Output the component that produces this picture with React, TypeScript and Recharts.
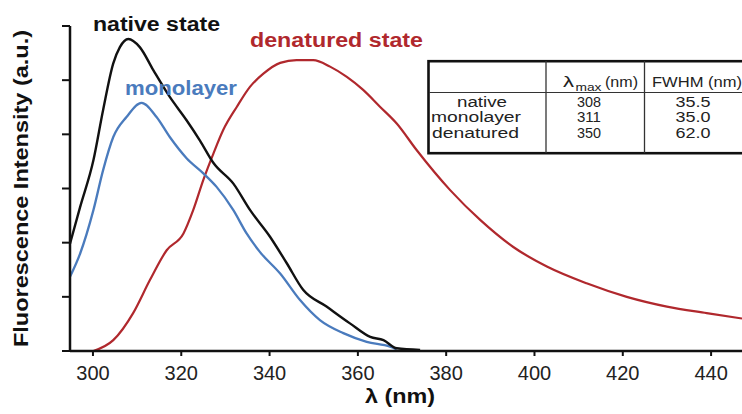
import React from 'react';
import { LineChart, Line, XAxis, YAxis } from 'recharts';

// Emission spectra, wavelength (nm) vs intensity (a.u.)
const nativeNm = [294.8, 297.1, 300.1, 302.3, 304.6, 306.1, 308.0, 310.6, 313.7, 317.4, 321.2, 324.2, 327.3, 331.8, 335.6, 340.1, 343.9, 347.6, 352.9, 358.2, 362.8, 365.8, 368.8, 374.1];
const nativeI = [1.98, 2.66, 3.52, 4.45, 5.31, 5.61, 5.76, 5.61, 5.18, 4.69, 4.26, 3.89, 3.47, 3.09, 2.6, 2.11, 1.62, 1.13, 0.82, 0.51, 0.26, 0.2, 0.05, 0.02];

const monoNm = [294.8, 297.1, 300.1, 302.3, 304.6, 307.6, 311.0, 314.4, 317.4, 321.2, 325.0, 328.0, 331.8, 334.8, 337.8, 342.4, 346.9, 351.4, 356.7, 362.0, 367.3, 368.8];
const monoI = [1.37, 1.8, 2.6, 3.34, 3.95, 4.32, 4.58, 4.32, 3.95, 3.56, 3.28, 3.03, 2.6, 2.17, 1.83, 1.43, 0.94, 0.57, 0.33, 0.17, 0.08, 0.03];

const denatNm = [300.1, 304.6, 309.1, 312.9, 316.7, 320.5, 322.7, 325.0, 327.3, 329.5, 332.6, 335.6, 338.6, 342.4, 346.1, 349.9, 353.7, 357.5, 361.2, 365.0, 368.8, 373.3, 380.9, 387.7, 395.2, 402.8, 411.8, 420.9, 430.0, 439.0, 447.0];
const denatI = [0, 0.2, 0.7, 1.31, 1.86, 2.17, 2.6, 3.16, 3.65, 4.08, 4.51, 4.88, 5.12, 5.32, 5.37, 5.37, 5.25, 5.06, 4.82, 4.51, 4.2, 3.71, 2.97, 2.42, 1.92, 1.56, 1.25, 1.0, 0.82, 0.7, 0.6];

const xTicks = [300, 320, 340, 360, 380, 400, 420, 440];
const yTicks = [0, 1, 2, 3, 4, 5, 6];

// inset table
const tableNames = ['native', 'monolayer', 'denatured'];
const tableLambdaMax = ['308', '311', '350'];
const tableFwhm = ['35.5', '35.0', '62.0'];

const BLACK = '#111';
const BLUE = '#4a7bbd';
const RED = '#b0282d';
const FONT = '"Liberation Sans", Arial, sans-serif';

const toPoints = (nm: number[], vals: number[]) => nm.map((x, i) => ({ nm: x, v: vals[i] }));

const nativeData = toPoints(nativeNm, nativeI);
const monoData = toPoints(monoNm, monoI);
const denatData = toPoints(denatNm, denatI);

// widths of the stretched table text in the picture
const nameLengths = [50, 90, 87];
const nameX = [457, 431, 432];
const rowBaselines = [106.5, 122.2, 137.8];

const Overlay = () => (
  <svg
    width={742}
    height={414}
    style={{ position: 'absolute', left: 0, top: 0, pointerEvents: 'none' }}
    fontFamily={FONT}
  >
    {/* series labels */}
    <text x={93} y={31} fontSize={20} fontWeight="bold" fill={BLACK} textLength={127} lengthAdjust="spacingAndGlyphs">
      native state
    </text>
    <text x={125} y={95} fontSize={20} fontWeight="bold" fill={BLUE} textLength={112} lengthAdjust="spacingAndGlyphs">
      monolayer
    </text>
    <text x={250} y={46.5} fontSize={20} fontWeight="bold" fill={RED} textLength={173} lengthAdjust="spacingAndGlyphs">
      denatured state
    </text>

    {/* axis titles */}
    <text
      transform="translate(28,188.5) rotate(-90)"
      textAnchor="middle"
      fontSize={21}
      fontWeight="bold"
      fill={BLACK}
      textLength={317}
      lengthAdjust="spacingAndGlyphs"
    >
      Fluorescence Intensity (a.u.)
    </text>
    <text x={400} y={403} textAnchor="middle" fontSize={20} fontWeight="bold" fill={BLACK} textLength={70} lengthAdjust="spacingAndGlyphs">
      λ (nm)
    </text>

    {/* table */}
    <rect x={428.5} y={61.2} width={330} height={92} fill="#fff" stroke={BLACK} strokeWidth={2.6} />
    <line x1={546} y1={61} x2={546} y2={153} stroke="#333" strokeWidth={1.3} />
    <line x1={644.5} y1={61} x2={644.5} y2={153} stroke="#333" strokeWidth={1.3} />
    <line x1={429} y1={92.5} x2={742} y2={92.5} stroke="#333" strokeWidth={1.2} />

    <g fill="#222">
      <text x={563} y={87} fontSize={15} textLength={11} lengthAdjust="spacingAndGlyphs">λ</text>
      <text x={575.5} y={91} fontSize={10} textLength={26} lengthAdjust="spacingAndGlyphs">max</text>
      <text x={605} y={87} fontSize={15} textLength={33} lengthAdjust="spacingAndGlyphs">(nm)</text>
      <text x={652} y={87} fontSize={15} textLength={90} lengthAdjust="spacingAndGlyphs">FWHM (nm)</text>

      {tableNames.map((name, i) => (
        <text key={name} x={nameX[i]} y={rowBaselines[i]} fontSize={14} textLength={nameLengths[i]} lengthAdjust="spacingAndGlyphs">
          {name}
        </text>
      ))}
      {tableLambdaMax.map((val, i) => (
        <text key={'l' + i} x={589} y={rowBaselines[i]} fontSize={14} textAnchor="middle" textLength={24} lengthAdjust="spacingAndGlyphs">
          {val}
        </text>
      ))}
      {tableFwhm.map((val, i) => (
        <text key={'f' + i} x={693} y={rowBaselines[i]} fontSize={14} textAnchor="middle" textLength={35} lengthAdjust="spacingAndGlyphs">
          {val}
        </text>
      ))}
    </g>
  </svg>
);

export default function App() {
  return (
    <div
      style={{
        position: 'absolute',
        left: 0,
        top: 0,
        width: 742,
        height: 414,
        overflow: 'hidden',
        background: '#fff',
        fontFamily: FONT
      }}
    >
      <LineChart width={742} height={414} margin={{ top: 26, right: 0, bottom: 0, left: 0 }}>
        <XAxis
          type="number"
          dataKey="nm"
          domain={[294.8, 447]}
          allowDataOverflow
          ticks={xTicks}
          interval={0}
          height={63}
          tickSize={5}
          tickMargin={10}
          tick={{ fontSize: 20, fill: '#222', fontFamily: FONT }}
          axisLine={{ stroke: BLACK, strokeWidth: 2.5 }}
          tickLine={{ stroke: BLACK, strokeWidth: 2 }}
        />
        <YAxis
          type="number"
          domain={[0, 6]}
          ticks={yTicks}
          interval={0}
          width={70}
          tickSize={8}
          tickFormatter={() => ''}
          axisLine={{ stroke: BLACK, strokeWidth: 2.5 }}
          tickLine={{ stroke: BLACK, strokeWidth: 2 }}
        />
        <Line
          data={denatData}
          dataKey="v"
          type="monotone"
          stroke={RED}
          strokeWidth={2.2}
          dot={false}
          isAnimationActive={false}
        />
        <Line
          data={monoData}
          dataKey="v"
          type="monotone"
          stroke={BLUE}
          strokeWidth={2.3}
          dot={false}
          isAnimationActive={false}
        />
        <Line
          data={nativeData}
          dataKey="v"
          type="monotone"
          stroke={BLACK}
          strokeWidth={2.4}
          dot={false}
          isAnimationActive={false}
        />
      </LineChart>
      <Overlay />
    </div>
  );
}
